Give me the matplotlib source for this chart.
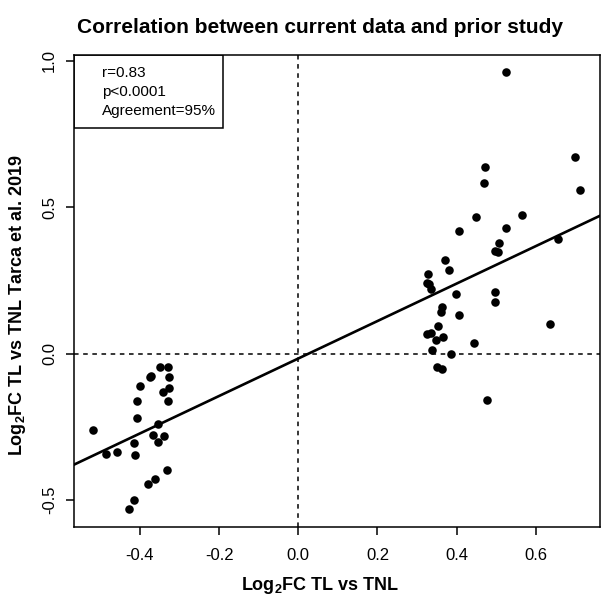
import matplotlib
matplotlib.use("Agg")
import matplotlib.pyplot as plt
import numpy as np

plt.rcParams["font.family"] = ["Liberation Sans", "DejaVu Sans"]
plt.rcParams["axes.unicode_minus"] = False
plt.rcParams["mathtext.fontset"] = "custom"
plt.rcParams["mathtext.rm"] = "Liberation Sans:bold"
plt.rcParams["mathtext.it"] = "Liberation Sans:bold"
plt.rcParams["mathtext.bf"] = "Liberation Sans:bold"

# log2FC TL vs TNL (current data)
x_neg = [-0.518, -0.486, -0.458, -0.414, -0.413, -0.408, -0.408, -0.401, -0.374,
         -0.372, -0.350, -0.329, -0.326, -0.341, -0.326, -0.329, -0.354, -0.366,
         -0.340, -0.355, -0.332, -0.362, -0.380, -0.414, -0.429]
y_neg = [-0.262, -0.344, -0.336, -0.304, -0.345, -0.219, -0.163, -0.110, -0.081,
         -0.075, -0.046, -0.045, -0.081, -0.132, -0.118, -0.161, -0.241, -0.277,
         -0.280, -0.302, -0.398, -0.427, -0.445, -0.499, -0.532]
x_pos = [0.525, 0.472, 0.468, 0.699, 0.713, 0.448, 0.565, 0.407, 0.525, 0.508,
         0.498, 0.505, 0.655, 0.370, 0.382, 0.328, 0.325, 0.330, 0.336, 0.398,
         0.496, 0.497, 0.364, 0.360, 0.406, 0.354, 0.636, 0.326, 0.335, 0.348,
         0.365, 0.445, 0.337, 0.386, 0.351, 0.362, 0.477]
y_pos = [0.961, 0.637, 0.582, 0.670, 0.559, 0.466, 0.473, 0.419, 0.429, 0.376,
         0.350, 0.346, 0.390, 0.318, 0.285, 0.270, 0.240, 0.236, 0.220, 0.204,
         0.211, 0.177, 0.160, 0.143, 0.132, 0.095, 0.100, 0.068, 0.071, 0.048,
         0.056, 0.036, 0.011, -0.002, -0.045, -0.054, -0.159]

legend_lines = ["r=0.83", "p<0.0001", "Agreement=95%"]
x_ticks = [-0.4, -0.2, 0.0, 0.2, 0.4, 0.6]
y_ticks = [-0.5, 0.0, 0.5, 1.0]

x = np.array(x_neg + x_pos)
y = np.array(y_neg + y_pos)
slope, intercept = np.polyfit(x, y, 1)

fig = plt.figure(figsize=(6.01, 5.95), dpi=100)
ax = fig.add_axes([0.1228, 0.1143, 0.8755, 0.7941])

ax.scatter(x, y, s=38, c="black", linewidths=0, zorder=3)
ax.axhline(0, color="black", lw=1.1, ls=(0, (3, 3)), zorder=2)
ax.axvline(0, color="black", lw=1.1, ls=(0, (3, 3)), zorder=2)
ax.axline((0, intercept), slope=slope, color="black", lw=1.9, zorder=4)

# R-style 4% padding
xr = x.max() - x.min()
yr = y.max() - y.min()
ax.set_xlim(x.min() - 0.04 * xr, x.max() + 0.04 * xr)
ax.set_ylim(y.min() - 0.04 * yr, y.max() + 0.04 * yr)

ax.set_xticks(x_ticks)
ax.set_xticklabels([f"{t:.1f}" for t in x_ticks])
ax.set_yticks(y_ticks)
ax.set_yticklabels([f"{t:.1f}" for t in y_ticks], rotation=90, va="center")
ax.tick_params(direction="out", length=6, width=1.1, labelsize=12, color="black")
ax.tick_params(axis="x", pad=9)
ax.tick_params(axis="y", pad=6)
for sp in ax.spines.values():
    sp.set_linewidth(1.1)

# legend box (top left)
ax.add_patch(plt.Rectangle((0, 0.845), 0.283, 0.155, transform=ax.transAxes,
                           fill=False, ec="black", lw=1.1, zorder=5))
for i, txt in enumerate(legend_lines):
    ax.text(0.053, 0.960 - i * 0.0395, txt, transform=ax.transAxes,
            fontsize=11, va="center", ha="left")

fig.text(320 / 601, 1 - 33 / 595, "Correlation between current data and prior study",
         ha="center", va="baseline", fontsize=15, fontweight="bold")
fig.text(320 / 601, 1 - 585 / 595, r"Log$_{2}$FC TL vs TNL",
         ha="center", va="center", fontsize=13, fontweight="bold")
fig.text(18 / 601, 1 - 305 / 595, r"Log$_{2}$FC TL vs TNL Tarca et al. 2019",
         ha="center", va="center", rotation=90, fontsize=13, fontweight="bold")

fig.savefig("out.png", dpi=100)
